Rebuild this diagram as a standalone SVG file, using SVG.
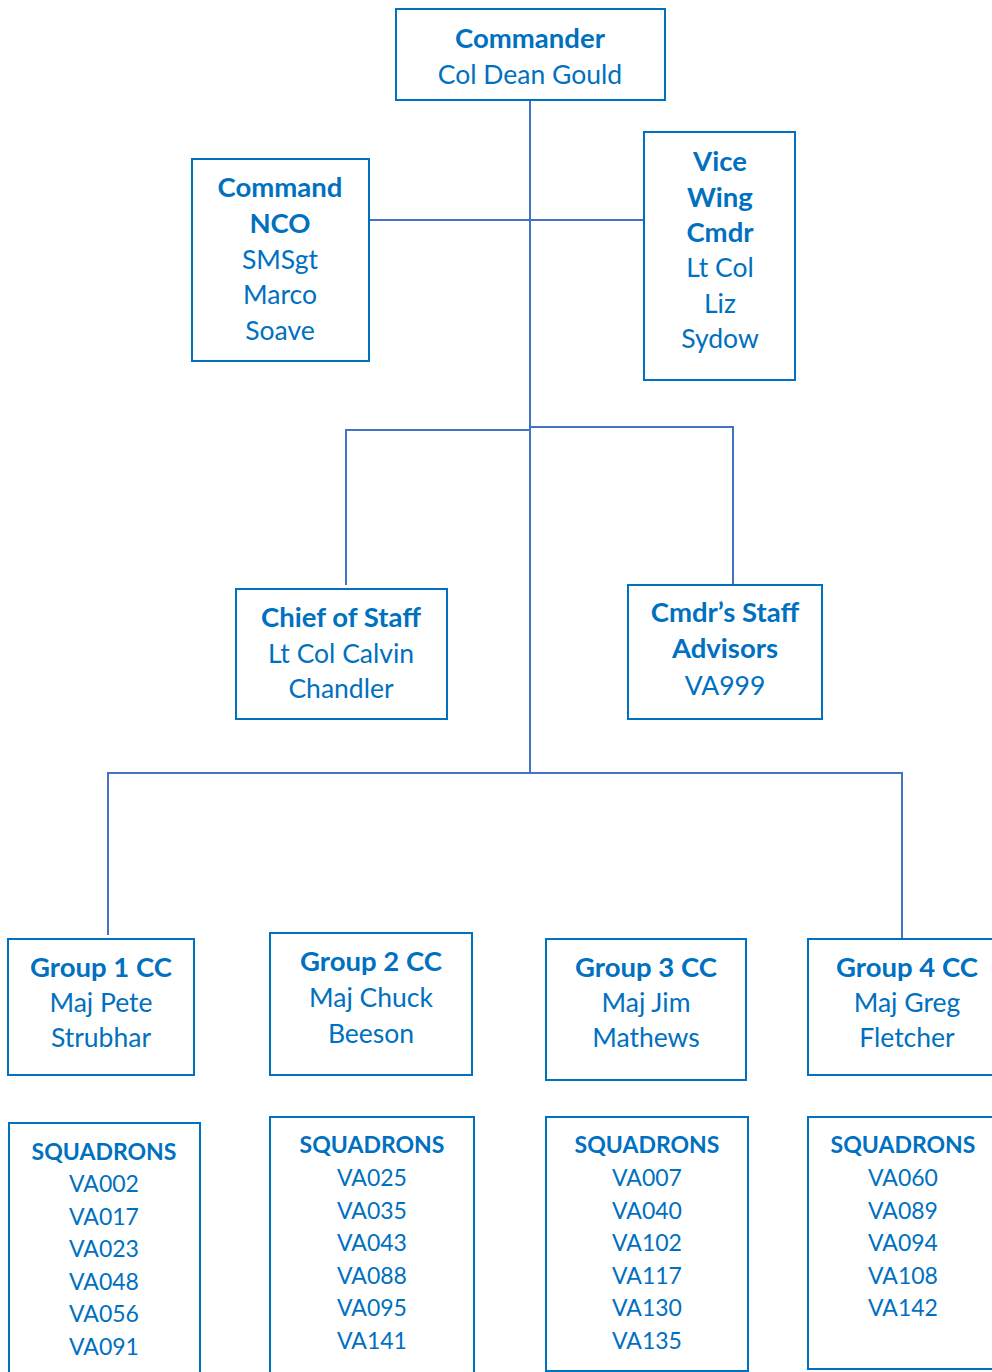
<svg xmlns="http://www.w3.org/2000/svg" width="992" height="1372" viewBox="0 0 992 1372">
<style>
.box{fill:#fff;stroke:#0070C0;stroke-width:2}
.con{fill:none;stroke:#4472C4;stroke-width:2}
text{font-family:Lato,"Liberation Sans",sans-serif;fill:#0070C0;text-anchor:middle}
.t{font-size:26.5px}
.t.b{font-size:27.5px}
.b{font-weight:bold}
.s{font-size:23px}
</style>
<rect width="992" height="1372" fill="#fff"/>
<g id="connectors">
<path class="con" d="M530 100V773"/>
<path class="con" d="M369 220H646"/>
<path class="con" d="M530 430H346V585"/>
<path class="con" d="M530 427H733V585"/>
<path class="con" d="M108 935V773H902V942"/>
</g>
<g id="commander">
<rect class="box" x="396" y="9" width="269" height="91"/>
<text class="t b" x="530" y="48">Commander</text>
<text class="t" x="530" y="84">Col Dean Gould</text>
</g>
<g id="command-nco">
<rect class="box" x="192" y="159" width="177" height="202"/>
<text class="t b" x="280" y="197">Command</text>
<text class="t b" x="280" y="233">NCO</text>
<text class="t" x="280" y="269">SMSgt</text>
<text class="t" x="280" y="304">Marco</text>
<text class="t" x="280" y="340">Soave</text>
</g>
<g id="vice-wing-cmdr">
<rect class="box" x="644" y="132" width="151" height="248"/>
<text class="t b" x="720" y="171">Vice</text>
<text class="t b" x="720" y="207">Wing</text>
<text class="t b" x="720" y="242">Cmdr</text>
<text class="t" x="720" y="277">Lt Col</text>
<text class="t" x="720" y="313">Liz</text>
<text class="t" x="720" y="348">Sydow</text>
</g>
<g id="chief-of-staff">
<rect class="box" x="236" y="589" width="211" height="130"/>
<text class="t b" x="341" y="627">Chief of Staff</text>
<text class="t" x="341" y="663">Lt Col Calvin</text>
<text class="t" x="341" y="698">Chandler</text>
</g>
<g id="cmdrs-staff">
<rect class="box" x="628" y="585" width="194" height="134"/>
<text class="t b" x="725" y="622">Cmdr’s Staff</text>
<text class="t b" x="725" y="658">Advisors</text>
<text class="t" x="725" y="695">VA999</text>
</g>
<g id="group1">
<rect class="box" x="8" y="939" width="186" height="136"/>
<text class="t b" x="101" y="977">Group 1 CC</text>
<text class="t" x="101" y="1012">Maj Pete</text>
<text class="t" x="101" y="1047">Strubhar</text>
</g>
<g id="group2">
<rect class="box" x="270" y="933" width="202" height="142"/>
<text class="t b" x="371" y="971">Group 2 CC</text>
<text class="t" x="371" y="1007">Maj Chuck</text>
<text class="t" x="371" y="1043">Beeson</text>
</g>
<g id="group3">
<rect class="box" x="546" y="939" width="200" height="141"/>
<text class="t b" x="646" y="977">Group 3 CC</text>
<text class="t" x="646" y="1012">Maj Jim</text>
<text class="t" x="646" y="1047">Mathews</text>
</g>
<g id="group4">
<rect class="box" x="808" y="939" width="190" height="136"/>
<text class="t b" x="907" y="977">Group 4 CC</text>
<text class="t" x="907" y="1012">Maj Greg</text>
<text class="t" x="907" y="1047">Fletcher</text>
</g>
<g id="squadrons1">
<rect class="box" x="9" y="1123" width="191" height="260"/>
<text class="s b" x="104" y="1160">SQUADRONS</text>
<text class="s" x="104" y="1192">VA002</text>
<text class="s" x="104" y="1224.5">VA017</text>
<text class="s" x="104" y="1257">VA023</text>
<text class="s" x="104" y="1289.5">VA048</text>
<text class="s" x="104" y="1322">VA056</text>
<text class="s" x="104" y="1354.5">VA091</text>
</g>
<g id="squadrons2">
<rect class="box" x="270" y="1117" width="204" height="266"/>
<text class="s b" x="372" y="1153">SQUADRONS</text>
<text class="s" x="372" y="1186">VA025</text>
<text class="s" x="372" y="1218.5">VA035</text>
<text class="s" x="372" y="1251">VA043</text>
<text class="s" x="372" y="1283.5">VA088</text>
<text class="s" x="372" y="1316">VA095</text>
<text class="s" x="372" y="1348.5">VA141</text>
</g>
<g id="squadrons3">
<rect class="box" x="546" y="1117" width="202" height="254"/>
<text class="s b" x="647" y="1153">SQUADRONS</text>
<text class="s" x="647" y="1186">VA007</text>
<text class="s" x="647" y="1218.5">VA040</text>
<text class="s" x="647" y="1251">VA102</text>
<text class="s" x="647" y="1283.5">VA117</text>
<text class="s" x="647" y="1316">VA130</text>
<text class="s" x="647" y="1348.5">VA135</text>
</g>
<g id="squadrons4">
<rect class="box" x="808" y="1117" width="190" height="252"/>
<text class="s b" x="903" y="1153">SQUADRONS</text>
<text class="s" x="903" y="1186">VA060</text>
<text class="s" x="903" y="1218.5">VA089</text>
<text class="s" x="903" y="1251">VA094</text>
<text class="s" x="903" y="1283.5">VA108</text>
<text class="s" x="903" y="1316">VA142</text>
</g>
</svg>
